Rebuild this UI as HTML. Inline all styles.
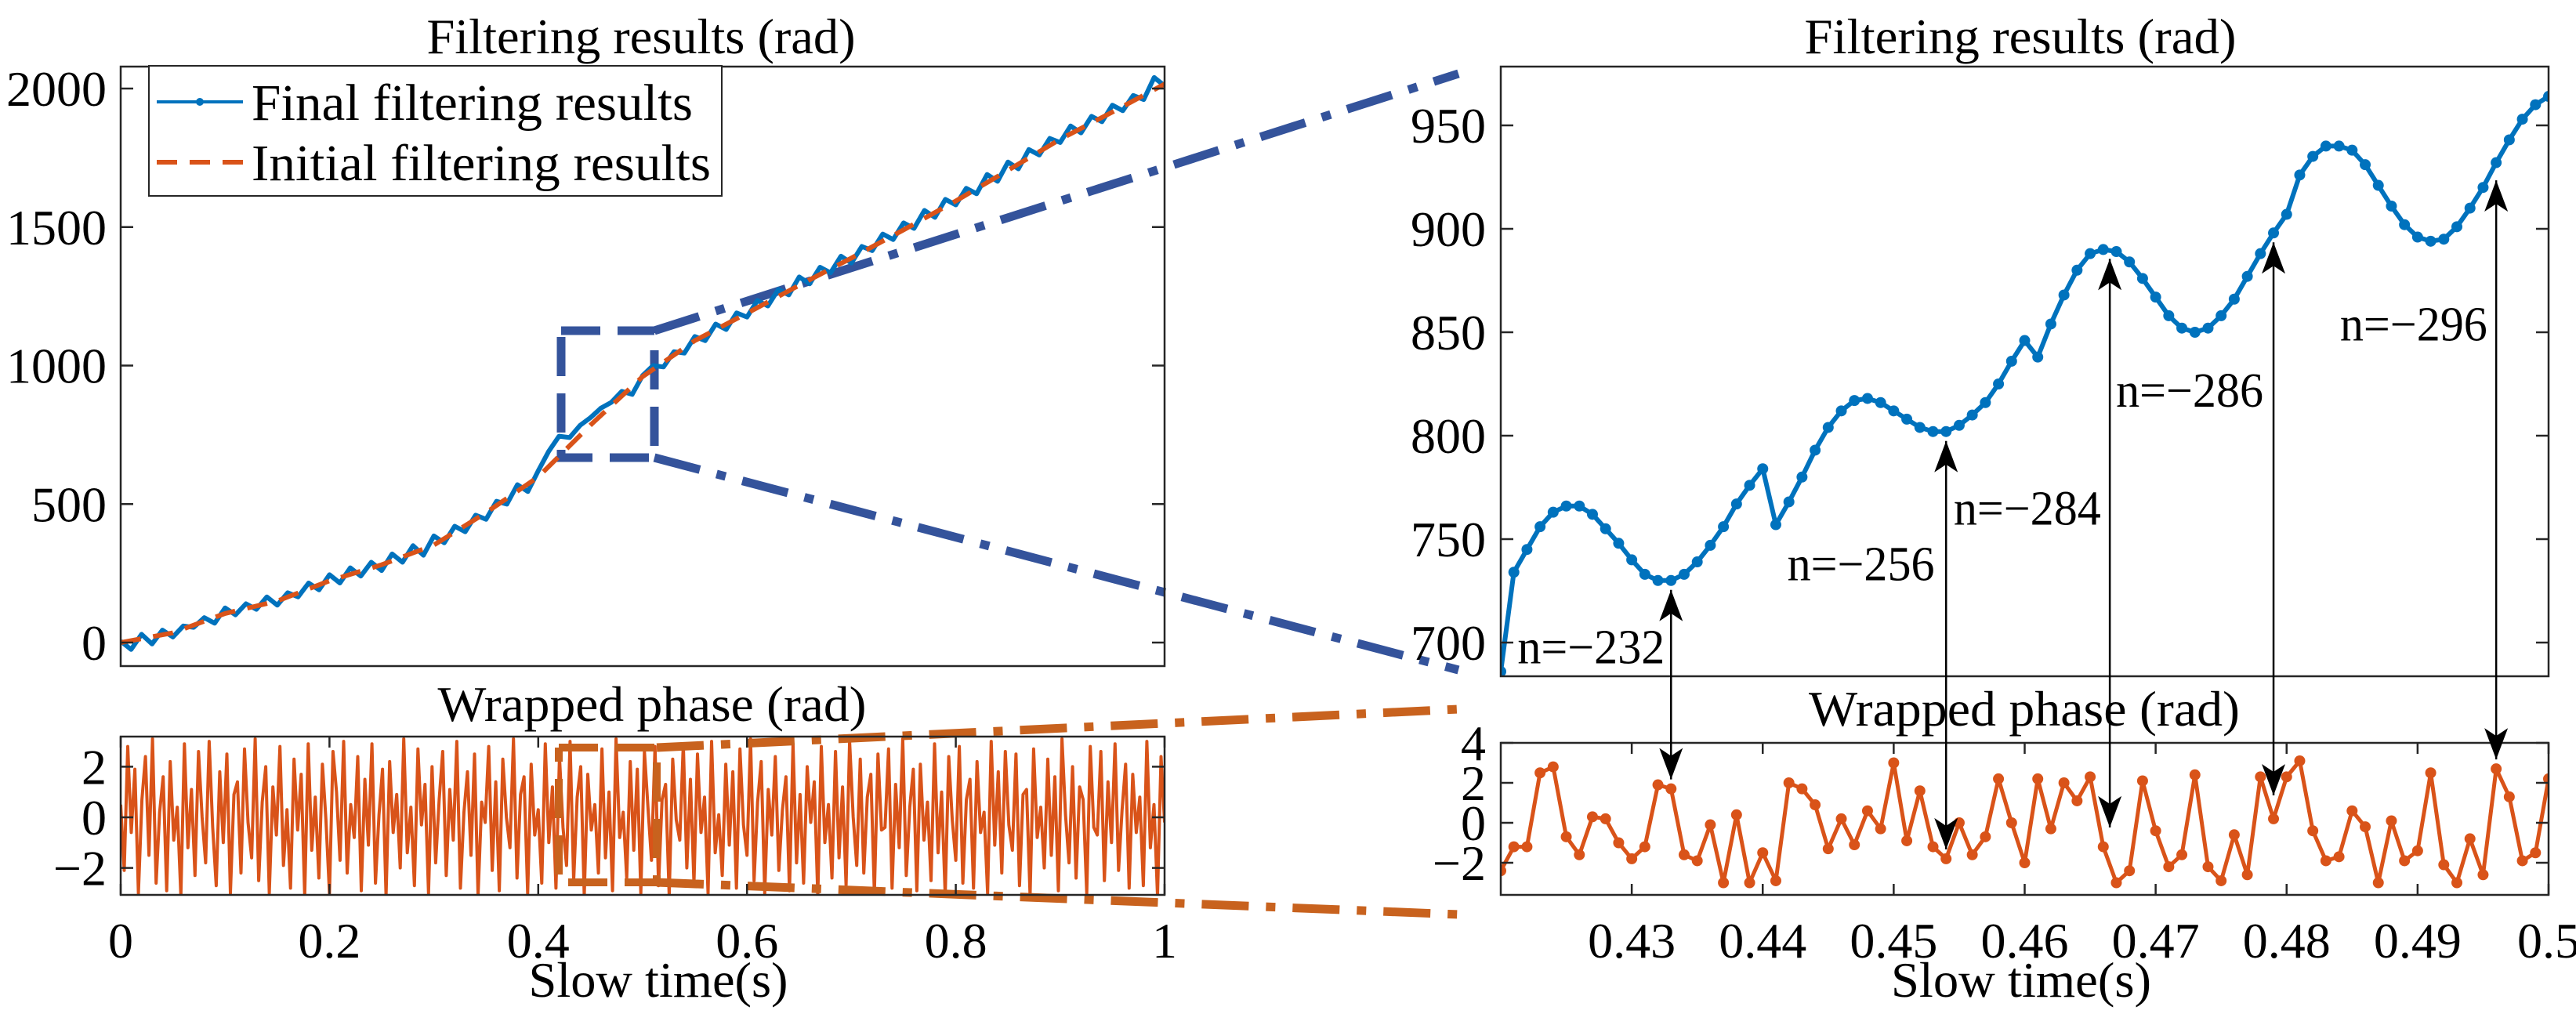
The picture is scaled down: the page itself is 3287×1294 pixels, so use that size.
<!DOCTYPE html>
<html><head><meta charset="utf-8"><style>
html,body{margin:0;padding:0;background:#fff}
svg{display:block}
text{font-family:"Liberation Serif",serif;fill:#000}
</style></head><body>
<svg id="fig" width="3287" height="1294" viewBox="0 0 3287 1294" xmlns="http://www.w3.org/2000/svg">
<defs>
<marker id="ah" viewBox="0 0 40 30" refX="40" refY="15" markerWidth="40" markerHeight="30" markerUnits="userSpaceOnUse" orient="auto-start-reverse">
<path d="M0,0 L40,15 L0,30 L10,15 Z" fill="#000"/>
</marker>
</defs>
<g id="root"></g>
</svg>
<script>
// ---- data ----
const initialT = [0,0.05,0.1,0.15,0.2,0.25,0.3,0.35,0.4,0.45,0.5,0.55,0.6,0.65,0.7,0.75,0.8,0.85,0.9,0.95,1];
const initialV = [0,35,105,150,223,281,352,469,598,785,960,1090,1189,1290,1388,1490,1594,1705,1817,1915,2016];
const finalV = [5,-25,30,-5,45,20,60,55,90,70,125,100,140,120,165,135,180,165,215,190,245,215,270,240,290,260,320,290,350,315,385,360,420,400,460,445,510,500,570,545,620,690,745,740,784,812,846,867,907,896,964,1000,995,1050,1045,1105,1090,1150,1130,1190,1175,1235,1215,1275,1255,1320,1295,1355,1335,1395,1370,1430,1415,1475,1455,1515,1495,1560,1535,1600,1580,1640,1620,1690,1665,1735,1710,1780,1760,1820,1805,1865,1840,1900,1880,1940,1920,1975,1960,2040,2010];
const wrappedAll = [0.5,-2.1,2.8,-0.6,1.9,-3.0,0.7,2.4,-1.5,3.1,-2.6,0.2,1.6,-2.9,2.2,-0.9,0.4,-3.1,2.9,-1.2,1.1,-2.3,2.6,0.0,-1.8,3.0,-0.4,-2.7,1.8,-1.0,2.5,-3.0,0.9,1.4,-2.2,2.7,-0.2,-1.6,3.1,-2.5,0.6,2.0,-3.0,1.2,-0.7,2.8,-1.9,0.3,-2.8,2.3,-0.5,1.7,-3.1,2.9,-1.3,0.8,-2.4,2.1,-0.1,-3.0,2.6,1.0,-1.7,3.0,-2.2,0.5,-0.8,2.4,-2.9,1.5,-1.1,2.9,-2.6,0.1,1.9,-3.1,2.2,-0.6,0.9,-2.0,3.1,-1.4,0.4,-2.7,2.7,-0.3,1.3,-3.0,2.0,-1.8,0.7,2.6,-2.3,1.1,-0.9,3.0,-2.8,0.2,1.8,-1.5,2.5,-3.1,0.6,-0.2,2.8,-2.1,1.4,-2.9,2.3,0.0,-1.2,3.1,-2.4,0.9,1.6,-3.0,2.1,-0.7,0.3,-2.6,2.9,-1.0,1.2,-2.8,2.4,-0.4,-1.9,3.0,-2.5,0.8,2.0,-3.1,1.7,-0.5,0.5,-2.2,2.7,-1.6,1.0,-2.9,3.1,-0.8,0.2,-2.4,2.2,-1.3,1.9,-3.0,2.6,0.4,-1.7,2.8,-2.7,0.7,1.3,-3.1,2.3,-0.1,-0.9,2.9,-2.0,1.5,-2.6,2.5,-0.6,0.8,-3.0,3.0,-1.4,0.1,-2.3,2.1,-1.1,1.8,-2.8,2.7,-0.3,-1.5,3.1,-2.5,0.6,2.2,-3.0,1.1,-0.7,2.4,-2.1,0.3,1.6,-2.9,2.9,-1.8,0.9,-2.6,2.0,-0.2,1.4,-3.1,2.8,-1.0,0.5,-2.4,2.6,-1.6,1.2,-2.7,3.0,0.0,-1.9,2.3,-2.2,0.8,1.7,-3.0,2.5,-0.5,-0.4,2.7,-2.8,1.3,-1.2,3.1,-2.3,0.4,1.9,-2.9,2.1,-0.9,0.6,-2.5,2.9,-1.4,1.0,-3.1,2.4,-0.1,-1.7,2.8,-2.6,0.7,1.5,-2.8,2.2,-0.6,0.2,-3.0,3.0,-1.1,1.8,-2.2,2.6,-0.3,-1.3,2.5,-2.7,0.9,1.1,-3.1,2.7,-0.8,0.4,-2.0,2.3,-1.5,1.6,-2.9,3.1,0.1,-1.8,2.0,-2.4,1.2,0.7,-3.0,2.8,-0.4,-0.7,2.6,-2.5,1.4,-1.0,2.9,-2.1,0.3,2.1,-2.8,1.7,-0.6,0.8,-2.7,3.0,-1.2,0.5,-3.1,2.4,-0.2];
const zoomT0 = 0.42, zoomDt = 0.001;
const zoomFinal = [686,734,745,756,763,766,766,762,755,748,740,733,730,730,733,739,747,756,767,776,784,757,768,780,793,804,812,817,818,816,812,808,804,802,802,805,810,816,825,836,846,838,854,868,880,888,890,889,884,876,867,858,852,850,852,858,866,877,888,898,907,926,935,940,940,938,931,921,911,902,896,894,895,901,910,920,932,943,953,960,964];
const zoomWrapped = [-2.4,-1.2,-1.2,2.5,2.8,-0.7,-1.6,0.3,0.2,-1.0,-1.8,-1.2,1.9,1.7,-1.6,-1.9,-0.1,-3.0,0.4,-3.0,-1.5,-2.9,2.0,1.7,0.9,-1.3,0.2,-1.1,0.6,-0.3,3.0,-0.9,1.6,-1.2,-1.8,0.0,-1.6,-0.7,2.2,0.0,-2.0,2.2,-0.3,2.0,1.1,2.3,-1.2,-3.0,-2.4,2.1,-0.4,-2.2,-1.6,2.4,-2.2,-2.9,-0.6,-2.6,2.3,0.2,2.3,3.1,-0.4,-1.9,-1.7,0.6,-0.2,-3.0,0.1,-1.9,-1.4,2.5,-2.1,-3.0,-0.8,-2.6,2.7,1.3,-1.9,-1.5,2.2];
const leftYTicks = [0,500,1000,1500,2000];
const leftWTicks = [-2,0,2];
const leftXTicks = [0,0.2,0.4,0.6,0.8,1];
const leftXLabels = ["0","0.2","0.4","0.6","0.8","1"];
const rightYTicks = [700,750,800,850,900,950];
const rightWTicks = [-2,0,2,4];
const rightXTicks = [0.43,0.44,0.45,0.46,0.47,0.48,0.49,0.5];
const rightXLabels = ["0.43","0.44","0.45","0.46","0.47","0.48","0.49","0.5"];
const annT = [0.433,0.454,0.4665,0.479,0.496];
const annTop = [730,802,890,898,928];
const annBot = [1.7,-1.8,-0.7,0.9,2.7];
const annLabels = ["n=\u2212232","n=\u2212256","n=\u2212284","n=\u2212286","n=\u2212296"];
const annLabelT = [0.4269,0.4475,0.4602,0.4726,0.4897];
const annLabelV = [698,738,765,822,854];

// ---- axes ----
const LX=[154,1486], LT=[85,850], LB=[940,1142];
const RX=[1915,3252], RT=[85,863], RB=[948,1142];
const lx=t=>LX[0]+t*(LX[1]-LX[0]);
const ly=v=>820-v*0.3535;
const lw=v=>1043-v*32.3;
const rx=t=>RX[0]+(t-0.42)/0.08*(RX[1]-RX[0]);
const ry=v=>160+(950-v)*2.64;
const rw=v=>1050-v*25.5;

const NS="http://www.w3.org/2000/svg";
const root=document.getElementById('root');
function mk(tag,attrs,parent){const e=document.createElementNS(NS,tag);for(const k in attrs)e.setAttribute(k,attrs[k]);(parent||root).appendChild(e);return e;}
function txt(s,x,y,size,anchor,len){const e=mk('text',{x:x,y:y,'font-size':size,'text-anchor':anchor||'middle'});if(len){e.setAttribute('textLength',len);e.setAttribute('lengthAdjust','spacingAndGlyphs');}e.textContent=s;return e;}
function box(x0,x1,y0,y1,name){const r=mk('rect',{x:x0,y:y0,width:x1-x0,height:y1-y0,fill:'none',stroke:'#262626','stroke-width':2.5});

}
function poly(pts,attrs,name){const p=mk('polyline',Object.assign({points:pts.map(p=>p[0].toFixed(1)+','+p[1].toFixed(1)).join(' '),fill:'none'},attrs));

return p;}

const defs=document.querySelector('defs');
function clip(id,x0,x1,y0,y1){const c=mk('clipPath',{id:id},defs);mk('rect',{x:x0,y:y0,width:x1-x0,height:y1-y0},c);}
clip('cLT',LX[0],LX[1],LT[0],LT[1]);clip('cLB',LX[0],LX[1],LB[0],LB[1]);
clip('cRT',RX[0],RX[1],RT[0],RT[1]);clip('cRB',RX[0],RX[1],RB[0],RB[1]);

let t;
t=txt('Filtering results (rad)',818,68,64,'middle',547);


t=txt('Wrapped phase (rad)',832,920,64,'middle',547);


t=txt('Filtering results (rad)',2578,68,64,'middle',551);


t=txt('Wrapped phase (rad)',2583,926,64,'middle',550);


t=txt('Slow time(s)',840,1272,64,'middle',331);


t=txt('Slow time(s)',2579,1272,64,'middle',332);



const cb={stroke:'#34539b','stroke-width':11,'stroke-dasharray':'60,22,12,22',fill:'none'};
const co={stroke:'#c8621e','stroke-width':11,'stroke-dasharray':'60,22,12,22',fill:'none'};
poly([[716,422],[835,422],[835,584],[716,584],[716,422]],Object.assign({},cb,{'stroke-dasharray':'50,22'}),'zoom-box-top');
poly([[835,422],[1861,94]],cb,'connector-top-upper');
poly([[835,584],[1861,855]],cb,'connector-top-lower');

const gLT=mk('g',{'clip-path':'url(#cLT)'});
gLT.appendChild(poly(finalV.map((v,i)=>[lx(i*0.01),ly(v)]),{stroke:'#0072BD','stroke-width':6,'stroke-linejoin':'round'},'final-filtering-line'));
gLT.appendChild(poly(initialV.map((v,i)=>[lx(initialT[i]),ly(v)]),{stroke:'#D95319','stroke-width':6,'stroke-dasharray':'26,16'},'initial-filtering-line'));

const gLB=mk('g',{'clip-path':'url(#cLB)'});
const nW=wrappedAll.length;
gLB.appendChild(poly(wrappedAll.map((v,i)=>[lx(i/(nW-1)),lw(v)]),{stroke:'#D95319','stroke-width':4,'stroke-linejoin':'round'},'wrapped-phase-line'));
poly([[713,954],[838,954],[838,1126],[713,1126],[713,954]],Object.assign({},co,{'stroke-dasharray':'50,22','stroke-width':10}),'zoom-box-bottom');
poly([[838,954],[1861,905]],co,'connector-bottom-upper');
poly([[838,1126],[1861,1167]],co,'connector-bottom-lower');

const gRT=mk('g',{'clip-path':'url(#cRT)'});
gRT.appendChild(poly(zoomFinal.map((v,i)=>[rx(zoomT0+i*zoomDt),ry(v)]),{stroke:'#0072BD','stroke-width':6,'stroke-linejoin':'round'},'zoom-final-line'));
zoomFinal.forEach((v,i)=>{const c=mk('circle',{cx:rx(zoomT0+i*zoomDt),cy:ry(v),r:7,fill:'#0072BD'},gRT);

});
const gRB=mk('g',{'clip-path':'url(#cRB)'});
gRB.appendChild(poly(zoomWrapped.map((v,i)=>[rx(zoomT0+i*zoomDt),rw(v)]),{stroke:'#D95319','stroke-width':5,'stroke-linejoin':'round'},'zoom-wrapped-line'));
zoomWrapped.forEach((v,i)=>{const c=mk('circle',{cx:rx(zoomT0+i*zoomDt),cy:rw(v),r:7,fill:'#D95319'},gRB);

});

box(LX[0],LX[1],LT[0],LT[1],'left-top-axes');
box(LX[0],LX[1],LB[0],LB[1],'left-bottom-axes');
box(RX[0],RX[1],RT[0],RT[1],'right-top-axes');
box(RX[0],RX[1],RB[0],RB[1],'right-bottom-axes');

function yt(vals,f,X,name,labelX){vals.forEach(v=>{const y=f(v);
mk('line',{x1:X[0],x2:X[0]+16,y1:y,y2:y,stroke:'#262626','stroke-width':2.5});
mk('line',{x1:X[1],x2:X[1]-16,y1:y,y2:y,stroke:'#262626','stroke-width':2.5});
const e=txt(String(v).replace('-','\u2212'),labelX,y+22,64,'end');

});}
yt(leftYTicks,ly,LX,'left-top-y-tick',136);
yt(leftWTicks,lw,LX,'left-bottom-y-tick',136);
yt(rightYTicks,ry,RX,'right-top-y-tick',1896);
yt(rightWTicks,rw,RX,'right-bottom-y-tick',1896);
function xt(vals,labels,f,Y,name){vals.forEach((v,i)=>{const x=f(v);
mk('line',{x1:x,x2:x,y1:Y[1],y2:Y[1]-14,stroke:'#262626','stroke-width':2.5});
mk('line',{x1:x,x2:x,y1:Y[0],y2:Y[0]+14,stroke:'#262626','stroke-width':2.5});
const e=txt(labels[i],x,1222,64,'middle');

});}
xt(leftXTicks,leftXLabels,lx,LB,'left-x-tick');
xt(rightXTicks,rightXLabels,rx,RB,'right-x-tick');

annT.forEach((tv,i)=>{const x=rx(tv);
const l=mk('line',{x1:x,x2:x,y1:ry(annTop[i])+12,y2:rw(annBot[i])-12,stroke:'#000','stroke-width':2.5,'marker-start':'url(#ah)','marker-end':'url(#ah)'});


const e=txt(annLabels[i],rx(annLabelT[i]),ry(annLabelV[i])+21,62,'middle',188);

});

const lg=mk('g',{});


mk('rect',{x:190,y:84,width:731,height:166,fill:'#fff',stroke:'#262626','stroke-width':2},lg);
mk('line',{x1:200,x2:310,y1:130,y2:130,stroke:'#0072BD','stroke-width':4},lg);
mk('circle',{cx:255,cy:130,r:5,fill:'#0072BD'},lg);
mk('line',{x1:200,x2:310,y1:207,y2:207,stroke:'#D95319','stroke-width':6,'stroke-dasharray':'26,16'},lg);
let e1=txt('Final filtering results',321,153,66,'start',563);lg.appendChild(e1);


let e2=txt('Initial filtering results',321,230,66,'start',586);lg.appendChild(e2);


</script>
</body></html>
